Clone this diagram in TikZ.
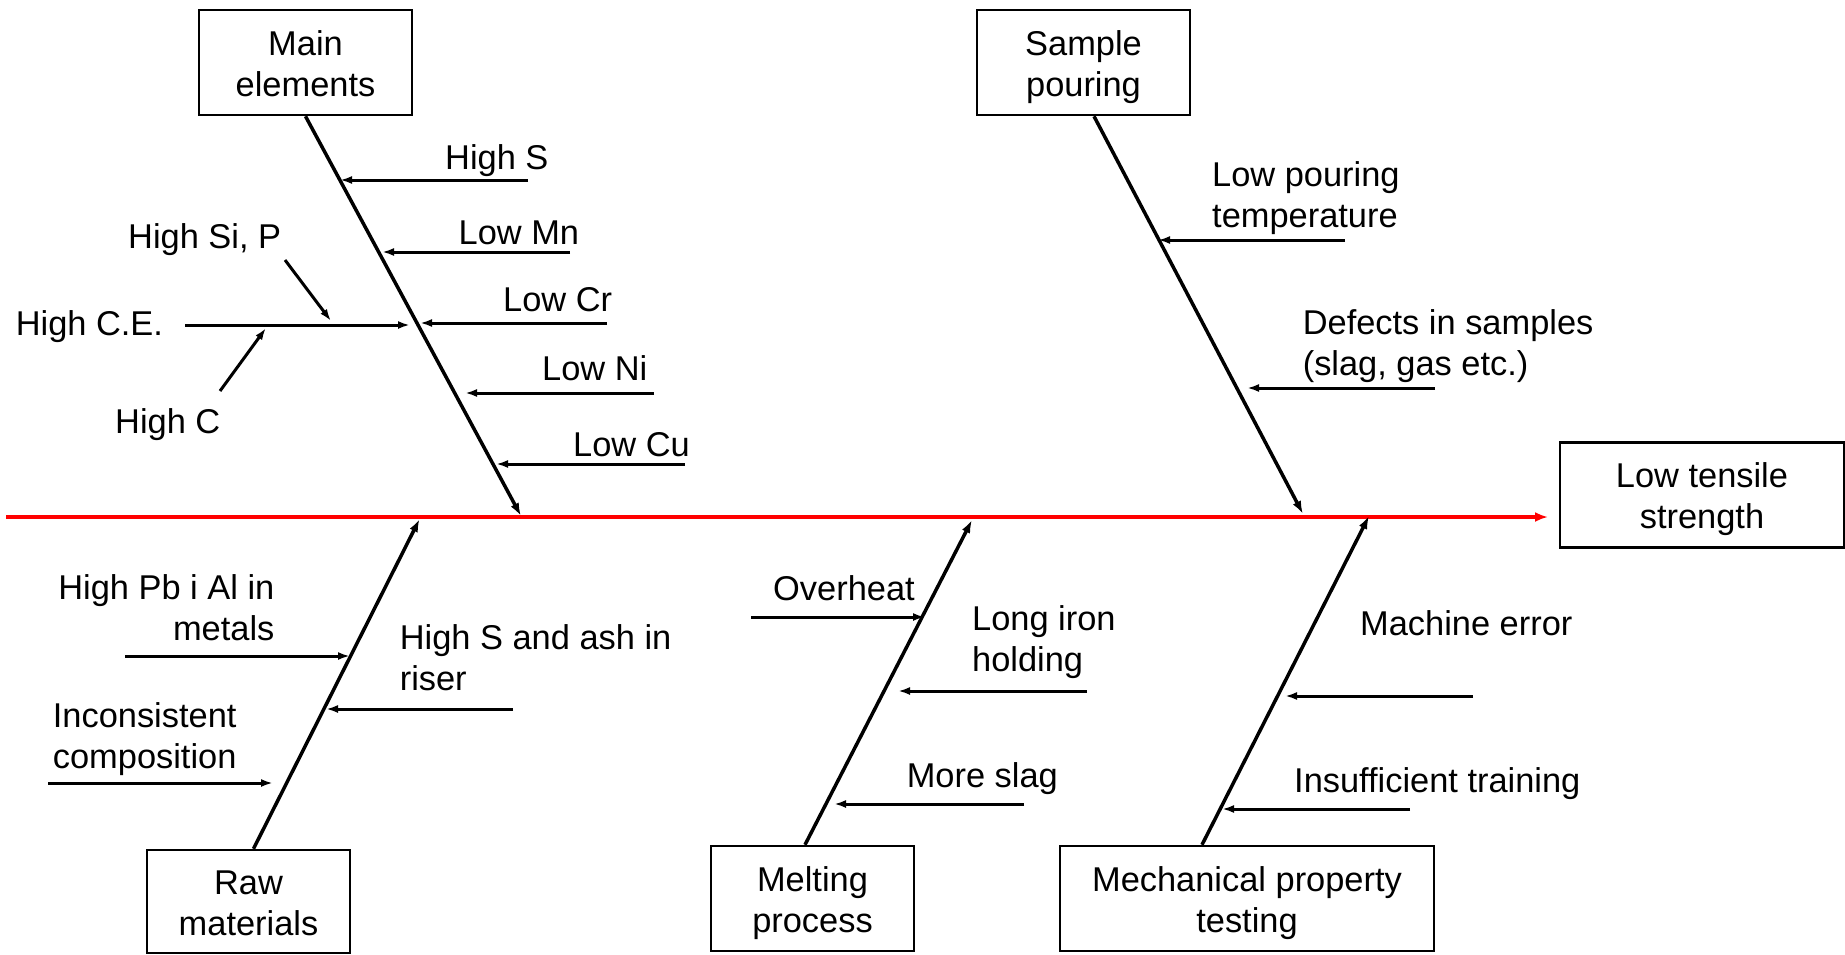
\documentclass[tikz,border=0pt]{standalone}
\usepackage{fontspec}
\setmainfont{Liberation Sans}
\usetikzlibrary{arrows.meta}
\newcommand\myfs{\fontsize{34.4}{41}\selectfont}
\newcommand\boxhi{\rule{0pt}{34pt}}
\newcommand\boxlo{\rule[-8pt]{0pt}{8pt}}
\tikzset{
  box/.style={draw, line width=2.5pt, inner sep=0pt, minimum height=105pt, align=center, font=\myfs},
  lbl/.style={inner sep=0pt, anchor=base west, align=left, font=\myfs},
  lblr/.style={inner sep=0pt, anchor=base east, align=right, font=\myfs},
  bone/.style={line width=3.5pt, -{Latex[length=13pt,width=9pt]}},
  sub/.style={line width=3pt, -{Latex[length=12pt,width=8pt]}},
  spine/.style={red, line width=4pt, -{Latex[length=13pt,width=10pt]}}
}
\begin{document}
\begin{tikzpicture}[x=1pt,y=-1pt]
\useasboundingbox (0,0) rectangle (1845,954);
% boxes
\node[box, minimum width=213pt] (main) at (305.5,62.5) {\boxhi Main\\elements\boxlo};
\node[box, minimum width=213pt] (sample) at (1083.5,62.5) {\boxhi Sample\\pouring\boxlo};
\node[box, minimum width=203pt, minimum height=103pt] (raw) at (248.5,901.5) {\boxhi Raw\\materials\boxlo};
\node[box, minimum width=203pt] (melt) at (812.5,898.5) {\boxhi Melting\\process\boxlo};
\node[box, minimum width=374pt] (mech) at (1247,898.5) {\boxhi Mechanical property\\testing\boxlo};
\node[box, minimum width=284.5pt] (lts) at (1702,495) {\boxhi Low tensile\\strength\boxlo};
% spine
\coordinate (sp0) at (6,517);
\coordinate (sp1) at (1548,517);
\draw[spine] (sp0) -- (sp1);
% bone tips
\coordinate (mt) at (521,516);
\coordinate (st) at (1303,514);
\coordinate (rt) at (419.6,519);
\coordinate (mlt) at (972,520);
\coordinate (mct) at (1369,516);
\draw[bone] (main.south) -- (mt);
\draw[bone] ([xshift=10.5pt]sample.south) -- (st);
\draw[bone] ([xshift=5pt]raw.north) -- (rt);
\draw[bone] ([xshift=-7.5pt]melt.north) -- (mlt);
\draw[bone] ([xshift=-45pt]mech.north) -- (mct);
% main elements causes
\coordinate (a1s) at (528,180); \coordinate (a1e) at (340,180);
\coordinate (a2s) at (570,252); \coordinate (a2e) at (382,252);
\coordinate (a3s) at (607,323); \coordinate (a3e) at (420,323);
\coordinate (a4s) at (654,393); \coordinate (a4e) at (465,393);
\coordinate (a5s) at (685,464); \coordinate (a5e) at (496,464);
\coordinate (ces) at (185,325); \coordinate (cee) at (410,325);
\coordinate (sis) at (285,260); \coordinate (sie) at (331,321);
\coordinate (cs) at (220,391); \coordinate (ce) at (266,328);
\foreach \s/\e in {a1s/a1e,a2s/a2e,a3s/a3e,a4s/a4e,a5s/a5e,ces/cee,sis/sie,cs/ce}
  \draw[sub] (\s) -- (\e);
\node[lbl] (lS) at (445,169) {High S};
\node[lbl] (lMn) at (458.5,244) {Low Mn};
\node[lbl] (lCr) at (503,311.6) {Low Cr};
\node[lbl] (lNi) at (542,380) {Low Ni};
\node[lbl] (lCu) at (573,456) {Low Cu};
\node[lbl] (lCE) at (15.6,335.7) {High C.E.};
\node[lbl] (lSi) at (128,248.6) {High Si, P};
\node[lbl] (lC) at (115,433) {High C};
% sample pouring causes
\coordinate (b1s) at (1345,240); \coordinate (b1e) at (1158,240);
\coordinate (b2s) at (1435,388); \coordinate (b2e) at (1247,388);
\draw[sub] (b1s) -- (b1e);
\draw[sub] (b2s) -- (b2e);
\node[lbl] (lpt) at (1212,227) {Low pouring\\temperature};
\node[lbl] (lds) at (1302.6,375) {Defects in samples\\(slag, gas etc.)};
% raw materials causes
\coordinate (c1s) at (125,656); \coordinate (c1e) at (350,656);
\coordinate (c2s) at (513,709); \coordinate (c2e) at (326,709);
\coordinate (c3s) at (48,783); \coordinate (c3e) at (273,783);
\draw[sub] (c1s) -- (c1e);
\draw[sub] (c2s) -- (c2e);
\draw[sub] (c3s) -- (c3e);
\node[lblr] (lpb) at (274.6,640) {High Pb i Al in\\metals};
\node[lbl] (lash) at (399.6,690) {High S and ash in\\riser};
\node[lbl] (linc) at (52.7,768.3) {Inconsistent\\composition};
% melting causes
\coordinate (d1s) at (751,617); \coordinate (d1e) at (925,617);
\coordinate (d2s) at (1087,691); \coordinate (d2e) at (898,691);
\coordinate (d3s) at (1024,804); \coordinate (d3e) at (834,804);
\draw[sub] (d1s) -- (d1e);
\draw[sub] (d2s) -- (d2e);
\draw[sub] (d3s) -- (d3e);
\node[lbl] (lov) at (773,600) {Overheat};
\node[lbl] (llih) at (972,671.7) {Long iron\\holding};
\node[lbl] (lms) at (906.6,787) {More slag};
% mechanical testing causes
\coordinate (e1s) at (1473,696); \coordinate (e1e) at (1285,696);
\coordinate (e2s) at (1410,809); \coordinate (e2e) at (1222,809);
\draw[sub] (e1s) -- (e1e);
\draw[sub] (e2s) -- (e2e);
\node[lbl] (lme) at (1360,635) {Machine error};
\node[lbl] (lit) at (1294,792.7) {Insufficient training};
\end{tikzpicture}
\end{document}
